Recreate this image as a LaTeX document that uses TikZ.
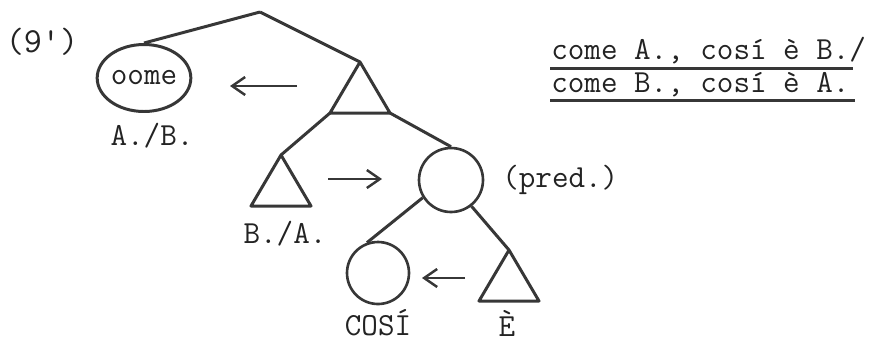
\documentclass[tikz,border=0pt]{standalone}
\usepackage{fontspec}
\usetikzlibrary{shapes.geometric,arrows.meta,positioning}
\definecolor{myink}{RGB}{35,35,35}
\definecolor{myline}{RGB}{55,55,55}
\tikzset{
  branch/.style={myline,line width=1.7pt},
  tri/.style={myline,line width=1.7pt,line join=round},
  ring/.style={circle,draw=myline,line width=1.5pt,inner sep=0pt},
  moves/.style={myline,line width=1.4pt,-{Straight Barb[length=2.6mm,width=3.6mm]}},
  uline/.style={myline,line width=1.7pt},
  tw/.style={font=\ttfamily\fontsize{18.3}{20}\selectfont,text=myink,inner sep=0pt},
}
\begin{document}
\begin{tikzpicture}[x=0.02cm,y=-0.02cm]
  \useasboundingbox (0,0) rectangle (875,343);
  \node[tw,font=\ttfamily\fontsize{20}{22}\selectfont] (num) at (42,42) {(9')};
  % tree
  \coordinate (top) at (260,12);
  \node[ellipse,draw=myline,line width=1.7pt,minimum width=1.7cm,minimum height=1.34cm,tw] (comeo) at (144,78) {oome};
  \foreach \nm/\x/\y in {up/360/62, ba/281/155, ee/509/250} {
    \coordinate (\nm-a) at (\x,\y);
    \coordinate (\nm-l) at ({\x-30},{\y+51});
    \coordinate (\nm-r) at ({\x+30},{\y+51});
    \draw[tri] (\nm-a) -- (\nm-l) -- (\nm-r) -- cycle;
  }
  \node[ring,minimum size=1.28cm] (pred) at (451,180) {};
  \node[ring,minimum size=1.24cm] (cosi) at (378,273) {};
  \draw[branch] (top) -- (comeo.north);
  \draw[branch] (top) -- (up-a);
  \draw[branch] (up-l) -- (ba-a);
  \draw[branch] (up-r) -- (pred.north);
  \draw[branch] (pred.212) -- (cosi.110);
  \draw[branch] (pred.308) -- (ee-a);
  % movements
  \coordinate (m1) at (297,86);  \coordinate (m1e) at (230,86);
  \coordinate (m2) at (328,179); \coordinate (m2e) at (382,179);
  \coordinate (m3) at (465,278); \coordinate (m3e) at (422,278);
  \draw[moves] (m1) -- (m1e);
  \draw[moves] (m2) -- (m2e);
  \draw[moves] (m3) -- (m3e);
  % labels
  \node[tw] (ab) at (152,136) {A./B.};
  \node[tw] (bab) at (285,234) {B./A.};
  \node[tw,anchor=west] (predl) at (502,180) {(pred.)};
  \node[tw] (cosl) at (378,323) {COSÍ};
  \node[tw] (el) at (507,323) {È};
  % gloss
  \node[tw,anchor=west] (gl1) at (551,51) {come A., cosí è B./};
  \node[tw,anchor=west] (gl2) at (551,85) {come B., cosí è A.};
  \draw[uline] (550,68) -- (853,68);
  \draw[uline] (550,100) -- (855,100);
\end{tikzpicture}
\end{document}
